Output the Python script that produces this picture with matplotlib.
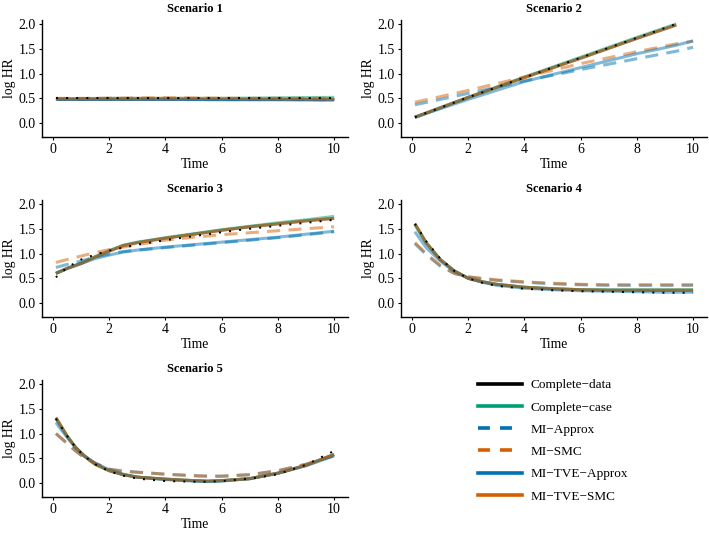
import numpy as np
import matplotlib
matplotlib.use("Agg")
import matplotlib.pyplot as plt
from matplotlib.lines import Line2D

nan = np.nan

methods = ["Complete\u2212data", "Complete\u2212case", "MI\u2212Approx", "MI\u2212SMC",
           "MI\u2212TVE\u2212Approx", "MI\u2212TVE\u2212SMC"]
colors = ["#000000", "#009E73", "#0072B2", "#D55E00", "#0072B2", "#D55E00"]
styles = ["solid", "solid", "dashed", "dashed", "solid", "solid"]
titles = ["Scenario 1", "Scenario 2", "Scenario 3", "Scenario 4", "Scenario 5"]
x_ticks = [0, 2, 4, 6, 8, 10]
y_ticks = [0.0, 0.5, 1.0, 1.5, 2.0]

# Scenario 1
t1 = [0.1, 2, 4, 6, 8, 10]
true1 = [0.5, 0.5, 0.5, 0.5, 0.5, 0.5]
cd1 = [0.49, 0.49, 0.49, 0.49, 0.49, 0.49]
cc1 = [0.49, 0.5, 0.5, 0.5, 0.51, 0.52]
mia1 = [0.49, 0.49, 0.49, 0.48, 0.48, 0.47]
mis1 = [0.5, 0.5, 0.51, 0.5, 0.5, 0.5]
tvea1 = [0.48, 0.48, 0.48, 0.47, 0.47, 0.46]
tves1 = [0.49, 0.5, 0.5, 0.5, 0.49, 0.49]

# Scenario 2
t2 = [0.1, 2, 4, 6, 8, 9.4, 10]
true2 = [0.12, 0.52, 0.92, 1.32, 1.72, 2.0, nan]
cd2 = [0.12, 0.52, 0.92, 1.31, 1.71, 1.98, nan]
cc2 = [0.11, 0.52, 0.93, 1.33, 1.73, 2.0, nan]
mia2 = [0.37, 0.6, 0.85, 1.08, 1.3, 1.45, 1.53]
mis2 = [0.42, 0.66, 0.93, 1.2, 1.44, 1.6, 1.65]
tvea2 = [0.12, 0.48, 0.84, 1.12, 1.4, 1.57, 1.66]
tves2 = [0.12, 0.52, 0.92, 1.31, 1.71, 1.98, nan]

# Scenario 3
t3 = [0.1, 0.5, 1, 1.5, 2, 2.5, 3, 4, 5, 6, 7, 8, 9, 10]
true3 = [0.52, 0.72, 0.88, 0.98, 1.06, 1.12, 1.18, 1.27, 1.35, 1.43, 1.5, 1.56, 1.62, 1.68]
cd3 = [0.6, 0.7, 0.8, 0.93, 1.05, 1.16, 1.22, 1.31, 1.39, 1.47, 1.54, 1.6, 1.66, 1.71]
cc3 = [0.6, 0.7, 0.81, 0.94, 1.06, 1.17, 1.23, 1.32, 1.4, 1.48, 1.55, 1.62, 1.68, 1.75]
mia3 = [0.72, 0.78, 0.85, 0.93, 0.99, 1.04, 1.07, 1.12, 1.17, 1.22, 1.27, 1.32, 1.38, 1.44]
mis3 = [0.82, 0.88, 0.95, 1.02, 1.08, 1.13, 1.18, 1.27, 1.33, 1.38, 1.42, 1.46, 1.5, 1.54]
tvea3 = [0.6, 0.7, 0.8, 0.9, 0.97, 1.03, 1.07, 1.13, 1.18, 1.23, 1.28, 1.33, 1.39, 1.45]
tves3 = [0.6, 0.7, 0.8, 0.93, 1.05, 1.16, 1.22, 1.31, 1.39, 1.47, 1.54, 1.6, 1.66, 1.71]

# Scenario 4
t4 = [0.1, 0.5, 1, 1.5, 2, 2.5, 3, 4, 5, 6, 7, 8, 9, 10]
true4 = [1.6, 1.25, 0.9, 0.65, 0.5, 0.41, 0.35, 0.29, 0.26, 0.24, 0.23, 0.22, 0.21, 0.21]
cd4 = [1.6, 1.22, 0.88, 0.65, 0.5, 0.43, 0.38, 0.32, 0.29, 0.27, 0.26, 0.26, 0.26, 0.26]
cc4 = [1.58, 1.21, 0.88, 0.65, 0.5, 0.43, 0.38, 0.32, 0.29, 0.27, 0.27, 0.27, 0.27, 0.27]
mia4 = [1.2, 0.98, 0.75, 0.6, 0.53, 0.49, 0.46, 0.42, 0.39, 0.37, 0.36, 0.36, 0.36, 0.36]
mis4 = [1.22, 1.0, 0.76, 0.6, 0.53, 0.5, 0.47, 0.43, 0.4, 0.38, 0.37, 0.37, 0.37, 0.37]
tvea4 = [1.44, 1.12, 0.85, 0.64, 0.5, 0.42, 0.36, 0.3, 0.27, 0.25, 0.24, 0.23, 0.22, 0.22]
tves4 = [1.6, 1.22, 0.88, 0.65, 0.5, 0.43, 0.38, 0.32, 0.29, 0.27, 0.26, 0.26, 0.26, 0.26]

# Scenario 5
t5 = [0.1, 0.5, 0.8, 1.1, 1.5, 2, 2.5, 3, 4, 5, 5.5, 6, 7, 8, 9, 10]
true5 = [1.3, 0.95, 0.72, 0.55, 0.38, 0.24, 0.15, 0.09, 0.04, 0.03, 0.03, 0.04, 0.09, 0.18, 0.37, 0.65]
cd5 = [1.32, 0.95, 0.72, 0.55, 0.38, 0.25, 0.17, 0.12, 0.08, 0.05, 0.04, 0.05, 0.09, 0.2, 0.36, 0.58]
cc5 = [1.3, 0.94, 0.72, 0.55, 0.38, 0.25, 0.17, 0.12, 0.08, 0.05, 0.04, 0.05, 0.09, 0.2, 0.36, 0.57]
mia5 = [1.0, 0.8, 0.65, 0.52, 0.4, 0.28, 0.24, 0.22, 0.18, 0.15, 0.14, 0.14, 0.17, 0.25, 0.38, 0.55]
mis5 = [1.0, 0.8, 0.65, 0.52, 0.4, 0.28, 0.24, 0.22, 0.18, 0.15, 0.14, 0.14, 0.17, 0.25, 0.38, 0.56]
tvea5 = [1.22, 0.92, 0.72, 0.56, 0.4, 0.27, 0.18, 0.12, 0.07, 0.04, 0.03, 0.04, 0.09, 0.2, 0.35, 0.55]
tves5 = [1.32, 0.95, 0.72, 0.55, 0.38, 0.25, 0.17, 0.12, 0.08, 0.05, 0.04, 0.05, 0.09, 0.2, 0.36, 0.58]

scenarios = [
    (t1, true1, [cd1, cc1, mia1, mis1, tvea1, tves1]),
    (t2, true2, [cd2, cc2, mia2, mis2, tvea2, tves2]),
    (t3, true3, [cd3, cc3, mia3, mis3, tvea3, tves3]),
    (t4, true4, [cd4, cc4, mia4, mis4, tvea4, tves4]),
    (t5, true5, [cd5, cc5, mia5, mis5, tvea5, tves5]),
]

plt.rcParams['font.family'] = ['Liberation Serif', 'DejaVu Serif']

W, H = 709, 533
fig = plt.figure(figsize=(W / 100, H / 100), dpi=100)

col_left = [42, 401]
row_top = [20, 200, 380]
ax_w, ax_h = 306, 117
positions = [(0, 0), (1, 0), (0, 1), (1, 1), (0, 2)]

DASH = (4.3, 2.7)
LW = 2.2

for i, (t, tr, series) in enumerate(scenarios):
    c, r = positions[i]
    x0 = col_left[c]
    y0 = row_top[r]
    ax = fig.add_axes([x0 / W, 1 - (y0 + ax_h) / H, ax_w / W, ax_h / H])
    for s, col, st in zip(series, colors, styles):
        ln, = ax.plot(t, s, color=col, lw=LW, alpha=0.5, solid_capstyle='butt')
        if st == 'dashed':
            ln.set_dashes(DASH)
    ax.plot(t, tr, color='black', lw=1.4, linestyle=(0, (1, 4.2)))
    ax.set_xlim(-0.395, 10.495)
    ax.set_ylim(-0.28, 2.08)
    ax.set_xticks(x_ticks)
    ax.set_xticklabels([str(v) for v in x_ticks])
    ax.set_yticks(y_ticks)
    ax.set_yticklabels(["%.1f" % v for v in y_ticks])
    for sp in ['top', 'right']:
        ax.spines[sp].set_visible(False)
    for sp in ['left', 'bottom']:
        ax.spines[sp].set_linewidth(1.0)
        ax.spines[sp].set_color('black')
    ax.tick_params(direction='out', length=2.5, width=0.8, colors='black',
                   labelsize=10, pad=2)
    ax.set_xlabel("Time", fontsize=9.8, labelpad=1)
    ax.set_ylabel("log HR", fontsize=9.8, labelpad=2)
    ax.set_title(titles[i], fontsize=9, fontweight='bold', pad=6)

handles = []
for m, col, st in zip(methods, colors, styles):
    h = Line2D([], [], color=col, lw=2.6)
    if st == 'dashed':
        h.set_dashes((3.3, 2.8))
    handles.append(h)

fig.legend(handles, methods, loc='upper left',
           bbox_to_anchor=(478 / W, 1 - 379 / H),
           frameon=False, fontsize=9.5, handlelength=3.3, handletextpad=0.7,
           labelspacing=0.76, borderpad=0, borderaxespad=0)

fig.savefig("out.png", dpi=100)
